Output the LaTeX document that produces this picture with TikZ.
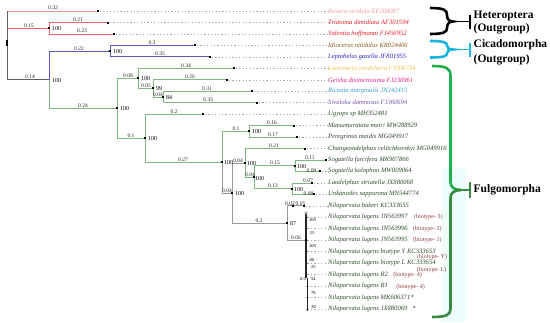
\documentclass[tikz,border=0pt]{standalone}
\usepackage{fontspec}
\setmainfont{Liberation Serif}
\definecolor{cpink}{HTML}{F29A9E}
\definecolor{cred}{HTML}{E8202A}
\definecolor{cbrown}{HTML}{8B5A1E}
\definecolor{cblue}{HTML}{2222CC}
\definecolor{cgold}{HTML}{F2C14E}
\definecolor{cmag}{HTML}{E0218A}
\definecolor{clblue}{HTML}{3A9FD6}
\definecolor{cpurp}{HTML}{7A5AAA}
\definecolor{cdgreen}{HTML}{2E4D2A}
\definecolor{cbio}{HTML}{8B3A3A}
\definecolor{ebred}{HTML}{F2606E}
\definecolor{ebpink}{HTML}{F38A94}
\definecolor{ebblue}{HTML}{5A5AC0}
\definecolor{ebgreen}{HTML}{7DB87D}
\definecolor{ebgray}{HTML}{9A9A90}
\definecolor{ebroot}{HTML}{606060}
\definecolor{brcyan}{HTML}{1CB5DD}
\definecolor{brgreen}{HTML}{1FAF4C}
\definecolor{brdgreen}{HTML}{3A8A46}
\definecolor{glow}{HTML}{EEFCFC}
\begin{document}
\begin{tikzpicture}[x=1pt,y=-1pt,
  tiplab/.style={font=\fontsize{6.6}{7}\selectfont\itshape, anchor=west, inner sep=0pt},
  blen/.style={font=\fontsize{5.5}{6}\selectfont, inner sep=0pt, text=black!85},
  supp/.style={font=\fontsize{6}{7}\selectfont, anchor=west, inner sep=0pt},
  tsupp/.style={font=\fontsize{4.5}{5}\selectfont, anchor=west, inner sep=0pt},
  biolab/.style={font=\fontsize{6}{7}\selectfont, anchor=west, inner sep=0pt, text=cbio},
  grplab/.style={font=\fontsize{11.5}{13}\selectfont\bfseries, anchor=west, inner sep=0pt},
  dotl/.style={gray!70, line width=0.5pt, dash pattern=on 1.2pt off 2.2pt},
  br/.style={line width=0.8pt},
  brace/.style={line width=2.6pt},
  bar/.style={line width=1.8pt}
]
\useasboundingbox (0,0) rectangle (550,322);
\fill[white] (0,0) rectangle (550,322);
\fill[glow] (442,168) rectangle (466,322);

% ---------- coordinates ----------
\coordinate (labx) at (328,0);
\coordinate (root) at (7,45);
\coordinate (Nes) at (98,11);
\coordinate (HetN) at (49,28.2);
\coordinate (Tri) at (108,22.5);
\coordinate (Val) at (114,33.9);
\coordinate (FN0) at (49,79.7);
\coordinate (CicN) at (110,51.1);
\coordinate (Idi) at (195,45.4);
\coordinate (Lep) at (210,56.8);
\coordinate (N117) at (117,108.2);
\coordinate (N138) at (138,78.3);
\coordinate (Lat) at (234,68.3);
\coordinate (N153) at (153,88.4);
\coordinate (Gei) at (227,79.8);
\coordinate (N163) at (163,97);
\coordinate (Ric) at (252,91.2);
\coordinate (Siv) at (257,102.7);
\coordinate (N145) at (145,138.1);
\coordinate (Ugy) at (203,114.1);
\coordinate (N222) at (222,162.1);
\coordinate (N249) at (249,131.3);
\coordinate (Mat) at (294,125.6);
\coordinate (Per) at (297,137.1);
\coordinate (N232) at (232,193);
\coordinate (N245) at (245,162.9);
\coordinate (Cha) at (305,148.5);
\coordinate (N254) at (254,177.2);
\coordinate (N295) at (295,165.7);
\coordinate (Sfu) at (326,160);
\coordinate (Sko) at (320,171.4);
\coordinate (N292) at (292,188.6);
\coordinate (Lao) at (312,182.9);
\coordinate (Unk) at (314,194.4);
\coordinate (N287) at (287,223);
\coordinate (Nbm) at (293,205.8);
\coordinate (Nba) at (304,205.8);
\coordinate (NJ) at (306,240.2);
\coordinate (La) at (309,217.3);
\coordinate (Lb) at (309,228.7);
\coordinate (Lc) at (309,240.2);
\coordinate (Ld) at (309,251.7);
\coordinate (Le) at (309,263.1);
\coordinate (Lf) at (309,274.6);
\coordinate (Lg) at (309,286);
\coordinate (Lh) at (309,297.5);
\coordinate (Li) at (309,309);

% ---------- edges ----------
\draw[br,ebpink] (root) |- (Nes);
\draw[br,ebred] (root) |- (HetN);
\draw[br,ebred] (HetN) |- (Tri);
\draw[br,ebred] (HetN) |- (Val);
\draw[br,ebroot] (root) |- (FN0);
\draw[br,ebroot] (root |- Nes) -- (root |- FN0);
\draw[br,ebblue] (FN0) |- (CicN);
\draw[br,ebblue] (CicN) |- (Idi);
\draw[br,ebblue] (CicN) |- (Lep);
\draw[br,ebgreen] (FN0) |- (N117);
\draw[br,ebgreen] (N117) |- (N138);
\draw[br,ebgreen] (N138) |- (Lat);
\draw[br,ebgreen] (N138) |- (N153);
\draw[br,ebgreen] (N153) |- (Gei);
\draw[br,ebgreen] (N153) |- (N163);
\draw[br,ebgreen] (N163) |- (Ric);
\draw[br,ebgreen] (N163) |- (Siv);
\draw[br,ebgreen] (N117) |- (N145);
\draw[br,ebgreen] (N145) |- (Ugy);
\draw[br,ebgreen] (N145) |- (N222);
\draw[br,ebgreen] (N222) |- (N249);
\draw[br,ebgreen] (N249) |- (Mat);
\draw[br,ebgreen] (N249) |- (Per);
\draw[br,ebgray] (N222) |- (N232);
\draw[br,ebgray] (N232) |- (N245);
\draw[br,ebgreen] (N245) |- (Cha);
\draw[br,ebgreen] (N245) |- (N254);
\draw[br,ebgreen] (N254) |- (N295);
\draw[br,ebgreen] (N295) |- (Sfu);
\draw[br,ebgreen] (N295) |- (Sko);
\draw[br,ebgreen] (N254) |- (N292);
\draw[br,ebgreen] (N292) |- (Lao);
\draw[br,ebgreen] (N292) |- (Unk);
\draw[br,ebgray] (N232) |- (N287);
\draw[br,ebgray] (N287) |- (Nbm) -- (Nba);
\draw[br,ebgray] (N287) |- (NJ);
\foreach \c in {La,Lb,Lc,Ld,Le,Lf,Lg,Lh,Li}
  \draw[br,ebgray] (NJ |- \c) -- (\c);
\draw[line width=1.9pt,black!85] (306,214) -- (306,278);
\draw[line width=1.9pt,black!85] (307.5,278) -- (307.5,311);
\draw[gray,line width=0.5pt,fill=white] (306,213) circle (1.2pt);

% root mark
\fill[black] (6,40) rectangle (8,46);

% ---------- node / tip dots ----------
\foreach \c in {Nes,HetN,Tri,Val,CicN,Idi,Lep,N117,N138,Lat,N153,Gei,N163,Ric,Siv,N145,Ugy,N222,N249,Mat,Per,N232,N245,Cha,N254,N295,Sfu,Sko,N292,Lao,Unk,N287,Nbm,Nba,NJ}
  \fill[black] (\c) ++(-1,-1) rectangle ++(2,2);

% ---------- tip labels ----------
\foreach \c/\col/\t in {
  Nes/cpink/Nesara viridula EF208087,
  Tri/cred/Triatoma dimidiata AF301594,
  Val/cred/Valentia hoffmanni FJ456952,
  Idi/cbrown/Idiocerus nitidulus KR024406,
  Lep/cblue/Leptobelus gazella JF801955,
  Lat/cgold/Laternaria candelaria FJ006724,
  Gei/cmag/Geisha distinctissima FJ230961,
  Ric/clblue/Ricania marginalis JN242415,
  Siv/cpurp/Sivaloka damnosus FJ360694,
  Ugy/cdgreen/Ugyops sp MH352481,
  Mat/cdgreen/Matsumuratata muiri MW288929,
  Per/cdgreen/Peregrinus maidis MG049917,
  Cha/cdgreen/Changeondelphax velitchkovskyi MG049916,
  Sfu/cdgreen/Sogatella furcifera MK907866,
  Sko/cdgreen/Sogatella kolophon MW009064,
  Lao/cdgreen/Laodelphax striatella JX880068,
  Unk/cdgreen/Unkanodes sapporona MN544774,
  Nba/cdgreen/Nilaparvata bakeri KC333655,
  La/cdgreen/Nilaparvata lugens JN563997,
  Lb/cdgreen/Nilaparvata lugens JN563996,
  Lc/cdgreen/Nilaparvata lugens JN563995,
  Ld/cdgreen/Nilaparvata lugens biotype Y KC333653,
  Le/cdgreen/Nilaparvata lugens biotype L KC333654,
  Lf/cdgreen/Nilaparvata lugens R2,
  Lg/cdgreen/Nilaparvata lugens R1,
  Lh/cdgreen/Nilaparvata lugens MK606371*,
  Li/cdgreen/Nilaparvata lugens JX880069\hspace{5pt}*}
{
  \node[tiplab,text=\col] (l\c) at (\c -| labx) {\t};
  \draw[dotl] (\c) ++(2,0) -- (l\c.west);
}

% ---------- biotype labels ----------
\node[biolab] (b3) at ([xshift=6pt]lLa.east) {(biotype- 3)};
\node[biolab] (b2) at ([xshift=5pt]lLb.east) {(biotype- 2)};
\node[biolab] (b1) at ([xshift=5pt]lLc.east) {(biotype- 1)};
\node[biolab] (bY) at (417,257) {(biotype- Y)};
\node[biolab] (bL) at (417,270.5) {(biotype- L)};
\node[biolab] (b4a) at ([xshift=5pt]lLf.east) {(biotype- 4)};
\node[biolab] (b4b) at ([xshift=8pt,yshift=-1.5pt]lLg.east) {(biotype- 4)};

% ---------- branch lengths ----------
\node[blen] (e1) at (53,8) {0.32};
\node[blen] (e2) at (29,25.5) {0.15};
\node[blen] (e3) at (78,19.5) {0.21};
\node[blen] (e4) at (82,31) {0.23};
\node[blen] (e5) at (79,48.5) {0.22};
\node[blen] (e6) at (152,42.5) {0.3};
\node[blen] (e7) at (160,54) {0.35};
\node[blen] (e8) at (30,77) {0.14};
\node[blen] (e9) at (128,75.5) {0.08};
\node[blen] (e10) at (146,85.8) {0.05};
\node[blen] (e11) at (158,94.5) {0.04};
\node[blen] (e12) at (186,65.5) {0.34};
\node[blen] (e13) at (190,77) {0.26};
\node[blen] (e14) at (207,88.5) {0.31};
\node[blen] (e15) at (208,100) {0.33};
\node[blen] (e16) at (83,105.5) {0.24};
\node[blen] (e17) at (131,135.5) {0.1};
\node[blen] (e18) at (174,111.5) {0.2};
\node[blen] (e19) at (183,159.5) {0.27};
\node[blen] (e20) at (236,128.8) {0.1};
\node[blen] (e21) at (272,123) {0.16};
\node[blen] (e22) at (273,134.5) {0.17};
\node[blen] (e23) at (274,146) {0.21};
\node[blen] (e24) at (238,160.3) {0.04};
\node[blen] (e25) at (250,174.6) {0.04};
\node[blen] (e26) at (275,163.2) {0.15};
\node[blen] (e27) at (310,157.5) {0.11};
\node[blen] (e28) at (311.5,170.8) {0.09};
\node[blen] (e29) at (273,186) {0.13};
\node[blen] (e30) at (308,180.3) {0.07};
\node[blen] (e31) at (308.5,193.8) {0.08};
\node[blen] (e32) at (227,190.5) {0.04};
\node[blen] (e33) at (259,220.5) {0.2};
\node[blen] (e34) at (290,203.3) {0.02};
\node[blen] (e35) at (300.5,203.3) {0.05};
\node[blen] (e36) at (296,237.8) {0.06};

% ---------- support values ----------
\node[supp] (s1) at (52,29) {100};
\node[supp] (s2) at (113,52) {100};
\node[supp] (s3) at (52,80.5) {100};
\node[supp] (s4) at (141,79) {100};
\node[supp] (s5) at (156,89) {99};
\node[supp] (s6) at (166,98) {84};
\node[supp] (s7) at (120,109) {100};
\node[supp] (s8) at (148,139) {100};
\node[supp] (s9) at (224,163) {100};
\node[supp] (s10) at (252,132) {100};
\node[supp] (s11) at (247,163.7) {100};
\node[supp] (s12) at (255,178.2) {100};
\node[supp] (s13) at (235,194) {100};
\node[supp] (s14) at (297,166.3) {100};
\node[supp] (s15) at (293.8,189.5) {100};
\node[supp] (s16) at (290,224) {87};
\node[tsupp] (t1) at (309,220.5) {100};
\node[tsupp] (t2) at (309.5,233) {33};
\node[tsupp] (t3) at (309,246.5) {100};
\node[tsupp] (t4) at (309.5,260) {86};
\node[tsupp] (t5) at (311,267.5) {25};
\node[tsupp] (t6) at (300,279) {0.0};
\node[tsupp] (t7) at (311,278.8) {54};
\node[tsupp] (t8) at (311,293) {78};
\node[tsupp] (t9) at (311.5,307) {82};

% ---------- group braces ----------
\draw[brace,black] (430,8) .. controls (444,8) and (447,10) .. (447,15)
  .. controls (447,19) and (449,21.5) .. (453,21.5)
  .. controls (449,21.5) and (447,24) .. (447,28)
  .. controls (447,32) and (444,34) .. (430,34);
\draw[bar,black] (453,21.5) -- (470,21.5);
\draw[bar,black] (470,14.5) -- (470,28.5);
\node[grplab] (g1) at (473.5,15.5) {Heteroptera};
\node[grplab] (g2) at (473.5,29) {(Outgroup)};

\draw[brace,brcyan] (430,41) .. controls (444,41) and (447,42.5) .. (447,45.5)
  .. controls (447,48) and (449,49.5) .. (453,49.5)
  .. controls (449,49.5) and (447,51) .. (447,53.5)
  .. controls (447,56) and (444,57.5) .. (430,57.5);
\draw[bar,brcyan] (453,49.5) -- (470,49.5);
\draw[bar,brcyan] (470,42.5) -- (470,56.5);
\node[grplab] (g3) at (473.5,45) {Cicadomorpha};
\node[grplab] (g4) at (473.5,60) {(Outgroup)};

\draw[brace,brgreen] (432,66) .. controls (446,66) and (450.5,68) .. (450.5,76)
  -- (450.5,182) .. controls (450.5,187) and (454,190) .. (461,190);
\draw[brace,brdgreen] (461,190) .. controls (454,190) and (450.5,193) .. (450.5,198)
  -- (450.5,309) .. controls (450.5,315) and (446,317) .. (432,317);
\draw[bar,brdgreen] (461,190) -- (470,190);
\draw[bar,brdgreen] (470,182) -- (470,198);
\node[grplab] (g5) at (473.5,190) {Fulgomorpha};
\end{tikzpicture}
\end{document}
